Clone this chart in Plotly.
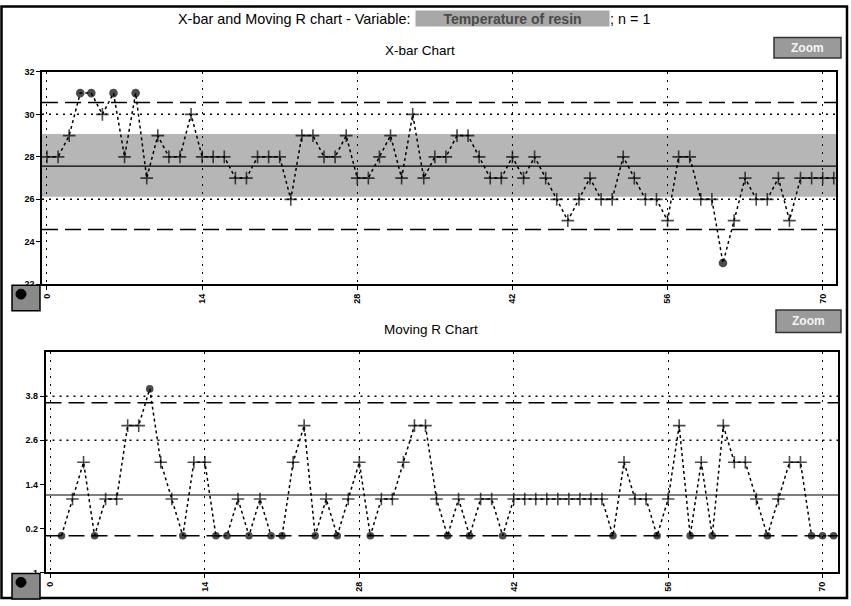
import plotly.graph_objects as go

# ---------------- data ----------------
X_VALUES = [28, 28, 29, 31, 31, 30, 31, 28, 31, 27,
            29, 28, 28, 30, 28, 28, 28, 27, 27, 28,
            28, 28, 26, 29, 29, 28, 28, 29, 27, 27,
            28, 29, 27, 30, 27, 28, 28, 29, 29, 28,
            27, 27, 28, 27, 28, 27, 26, 25, 26, 27,
            26, 26, 28, 27, 26, 26, 25, 28, 28, 26,
            26, 23, 25, 27, 26, 26, 27, 25, 27, 27,
            27, 27]
X_SAMPLES = list(range(len(X_VALUES)))

MR_VALUES = [0, 1, 2, 0, 1, 1, 3, 3, 4, 2,
             1, 0, 2, 2, 0, 0, 1, 0, 1, 0,
             0, 2, 3, 0, 1, 0, 1, 2, 0, 1,
             1, 2, 3, 3, 1, 0, 1, 0, 1, 1,
             0, 1, 1, 1, 1, 1, 1, 1, 1, 1,
             0, 2, 1, 1, 0, 1, 3, 0, 2, 0,
             3, 2, 2, 1, 0, 1, 2, 2, 0, 0,
             0]
MR_SAMPLES = list(range(1, len(MR_VALUES) + 1))

# reference lines
X_CL, X_UCL, X_LCL = 27.56, 30.56, 24.58
X_DOTTED = [30.0, 26.0]
X_BAND = [26.12, 29.08]
MR_CL, MR_UCL, MR_LCL = 1.11, 3.62, 0.0
MR_DOTTED = [3.8, 2.6]

X_TICKS = [0, 14, 28, 42, 56, 70]
X_YTICKS = [22, 24, 26, 28, 30, 32]
MR_YTICKS = [-1, 0.2, 1.4, 2.6, 3.8]
MR_YTICKTEXT = ["-1", "0.2", "1.4", "2.6", "3.8"]

W, H = 851, 606
FONT = "Liberation Sans, Arial, sans-serif"
NARROW = "Liberation Sans Narrow, Liberation Sans, Arial, sans-serif"


def px(x):
    return x / W


def py(y):
    return 1 - y / H


x_sym = ["circle" if (v > X_UCL or v < X_LCL) else "cross-thin" for v in X_VALUES]
x_size = [7 if s == "circle" else 9 for s in x_sym]
mr_sym = ["circle" if (v >= MR_UCL or v <= MR_LCL) else "cross-thin" for v in MR_VALUES]
mr_size = [6 if s == "circle" else 9 for s in mr_sym]

fig = go.Figure()
fig.add_trace(go.Scatter(
    x=X_SAMPLES, y=X_VALUES, mode="lines+markers", xaxis="x", yaxis="y",
    line=dict(color="black", width=1.5, dash="3px,3px"),
    marker=dict(symbol=x_sym, size=x_size, color="black",
                line=dict(color="black", width=1.6)),
    showlegend=False, hoverinfo="x+y"))
fig.add_trace(go.Scatter(
    x=MR_SAMPLES, y=MR_VALUES, mode="lines+markers", xaxis="x2", yaxis="y2",
    line=dict(color="black", width=1.5, dash="3px,3px"),
    marker=dict(symbol=mr_sym, size=mr_size, color="black",
                line=dict(color="black", width=1.6)),
    showlegend=False, hoverinfo="x+y"))

shapes = []
# band in X-bar chart
shapes.append(dict(type="rect", xref="x domain", yref="y", x0=0, x1=1,
                   y0=X_BAND[0], y1=X_BAND[1], fillcolor="#b6b6b6",
                   line=dict(width=0), layer="below"))


def hline(xref, yref, y, dash, width=1.5):
    return dict(type="line", xref=xref, yref=yref, x0=0, x1=1, y0=y, y1=y,
                line=dict(color="black", width=width, dash=dash), layer="below")


shapes.append(hline("x domain", "y", X_CL, "solid", 1.2))
shapes.append(hline("x domain", "y", X_UCL, "16px,7px"))
shapes.append(hline("x domain", "y", X_LCL, "16px,7px"))
for v in X_DOTTED:
    shapes.append(hline("x domain", "y", v, "2px,5px"))
shapes.append(hline("x2 domain", "y2", MR_CL, "solid", 1.2))
shapes.append(hline("x2 domain", "y2", MR_UCL, "16px,7px"))
shapes.append(hline("x2 domain", "y2", MR_LCL, "16px,7px"))
for v in MR_DOTTED:
    shapes.append(hline("x2 domain", "y2", v, "2px,5px"))

# outer frame
shapes.append(dict(type="rect", xref="paper", yref="paper",
                   x0=px(1.5), x1=px(847), y0=py(603), y1=py(1.5),
                   line=dict(color="black", width=2.5), layer="above"))

# zoom buttons
for (x0, x1, y0, y1) in [(774, 841, 33, 54), (776, 841, 310, 333)]:
    shapes.append(dict(type="rect", xref="paper", yref="paper",
                       x0=px(x0), x1=px(x1), y0=py(y1), y1=py(y0),
                       fillcolor="#9a9a9a", line=dict(color="#333", width=1.5),
                       layer="above"))
# small corner icons
for (x0, x1, y0, y1) in [(12, 40, 285, 311), (12, 40, 578, 604)]:
    shapes.append(dict(type="rect", xref="paper", yref="paper",
                       x0=px(x0), x1=px(x1), y0=py(y1), y1=py(y0),
                       fillcolor="#8a8a8a", line=dict(color="black", width=1.5),
                       layer="above"))
    shapes.append(dict(type="circle", xref="paper", yref="paper",
                       x0=px(x0 + 4), x1=px(x0 + 14), y0=py(y0 + 14), y1=py(y0 + 4),
                       fillcolor="black", line=dict(color="black", width=1),
                       layer="above"))


def note(text, x, y, xanchor="center", **kw):
    d = dict(text=text, x=px(x), y=py(y), xref="paper", yref="paper",
             xanchor=xanchor, yanchor="middle", showarrow=False)
    d.update(kw)
    return d


annotations = [
    note("X-bar and Moving R chart - Variable:", 412, 14, "right",
         font=dict(family=FONT, size=14.4, color="black")),
    note("Temperature of resin", 415, 14, "left", width=193, height=15,
         bgcolor="#a8a8a8", borderpad=0,
         font=dict(family=FONT, size=14, color="#4a4a4a", weight="bold")),
    note("; n = 1", 608, 14, "left",
         font=dict(family=FONT, size=14.4, color="black")),
    note("X-bar Chart", 420, 46, font=dict(family=FONT, size=13.5, color="black")),
    note("Moving R Chart", 431, 330, font=dict(family=FONT, size=13.5, color="black")),
    note("Zoom", 807.5, 43.5,
         font=dict(family=NARROW, size=12, color="#f4f4f4", weight="bold")),
    note("Zoom", 808.5, 321.5,
         font=dict(family=NARROW, size=12, color="#f4f4f4", weight="bold")),
]

tickfont = dict(family=NARROW, size=9, color="black", weight="bold")
common_x = dict(tickvals=X_TICKS, tickangle=-90, ticks="outside", ticklen=4,
                tickwidth=1.2, tickcolor="black", showline=True, mirror=True,
                linecolor="black", linewidth=1.5, showgrid=True,
                gridcolor="black", gridwidth=1, griddash="2px,6px",
                zeroline=False, tickfont=tickfont)
common_y = dict(ticks="outside", ticklen=4, tickwidth=1.2, tickcolor="black",
                showline=True, mirror=True, linecolor="black", linewidth=1.5,
                showgrid=False, zeroline=False, tickfont=tickfont)

fig.update_layout(
    width=W, height=H,
    margin=dict(l=0, r=0, t=0, b=0),
    paper_bgcolor="white", plot_bgcolor="white",
    xaxis=dict(domain=[px(42), px(836)], range=[-0.45, 71.2], anchor="y", **common_x),
    yaxis=dict(domain=[py(284), py(68)], range=[22, 32], tickvals=X_YTICKS,
               anchor="x", **common_y),
    xaxis2=dict(domain=[px(45.5), px(838)], range=[-0.45, 71.4], anchor="y2", **common_x),
    yaxis2=dict(domain=[py(577), py(353)], range=[-1, 5], tickvals=MR_YTICKS,
                ticktext=MR_YTICKTEXT, anchor="x2", **common_y),
    shapes=shapes,
    annotations=annotations,
    showlegend=False,
)

fig.write_html("out.html", config={"displayModeBar": False},
               post_script="document.body.style.margin='0px';")
